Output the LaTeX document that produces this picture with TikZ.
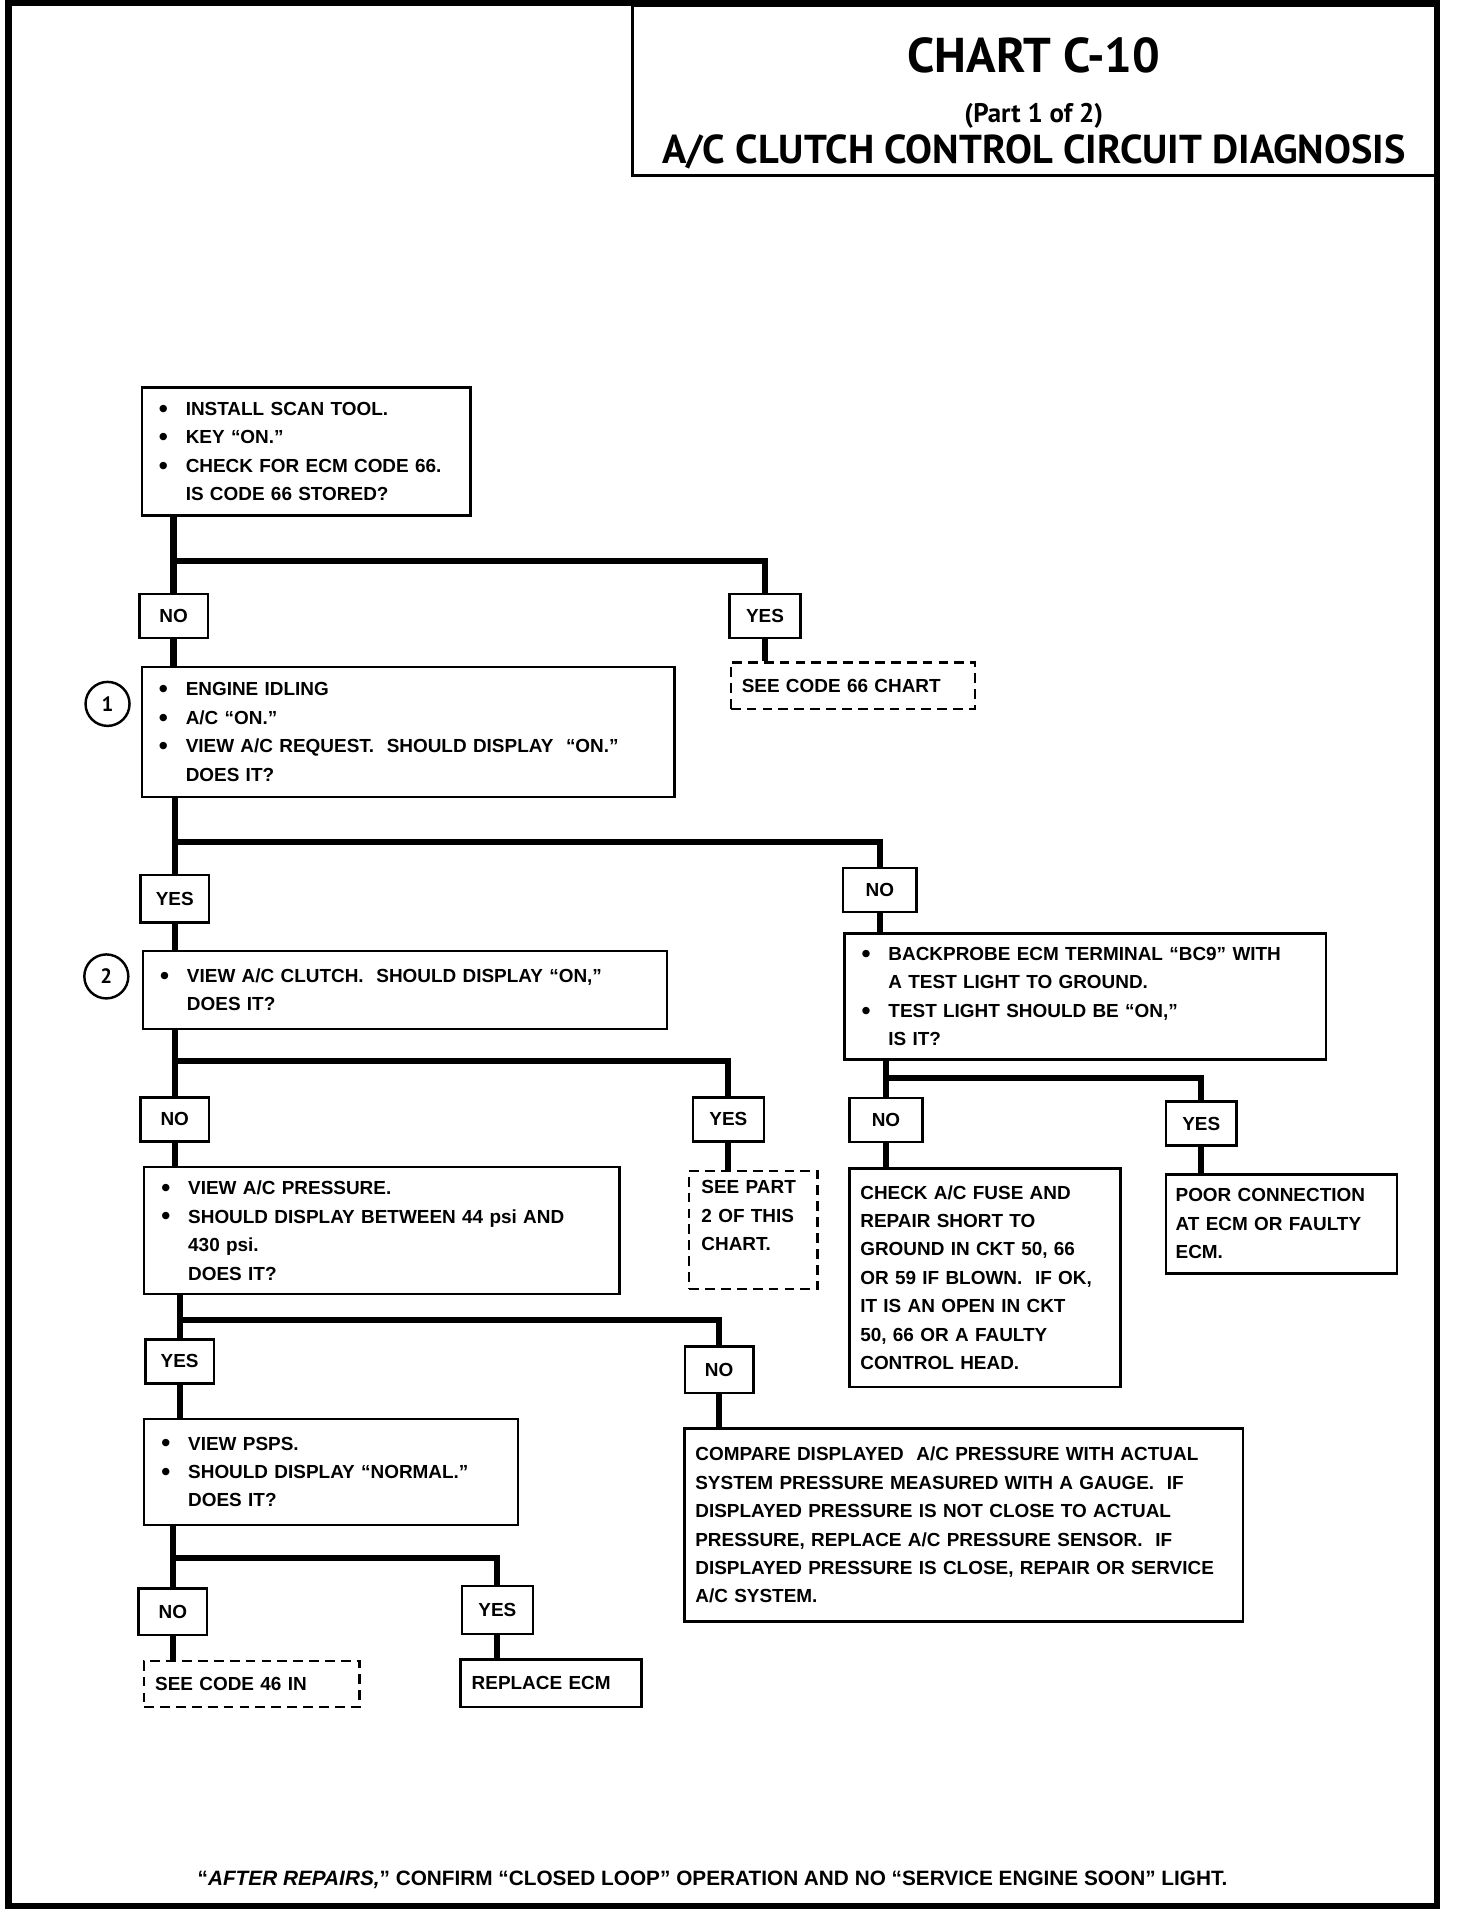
\documentclass[tikz,border=0pt]{standalone}
\usepackage{fontspec}
\setmainfont{PT Sans}
\newfontfamily\boxfont{Liberation Sans}

\newcommand{\bul}{\makebox[22pt][l]{\raisebox{-1.5pt}{\fontsize{21}{0}\selectfont\textbullet}}}
\newcommand{\ind}{\hspace*{22pt}}

\begin{document}
\begin{tikzpicture}[x=1pt, y=-1pt,
    step_box/.style={draw, line width=2pt, anchor=north west, align=left, inner xsep=14pt, inner ysep=0pt, font=\boxfont\fontsize{15.5}{23.3}\selectfont\bfseries},
    dash_box/.style={step_box, dash pattern=on 8pt off 5pt, inner xsep=9pt},
    label_box/.style={draw, line width=2pt, minimum width=56pt, minimum height=36pt, inner sep=0pt, font=\boxfont\fontsize{15.5}{18}\selectfont\bfseries},
    tag_node/.style={circle, draw, line width=2pt, minimum size=36pt, inner sep=0pt, font=\fontsize{17}{18}\selectfont\bfseries},
    wire/.style={line width=5pt}]
    \useasboundingbox (0,0) rectangle (1191.5,1564.6);
    \draw[line width=5pt] (7,2.5) rectangle (1176,1560);

    % title
    \node[draw, line width=2.5pt, anchor=north west, minimum width=660pt, minimum height=139pt] (title_box) at (516,3) {};
    \node[anchor=base, font=\fontsize{40}{40}\selectfont\bfseries] (chart_no) at (846,59) {CHART C-10};
    \node[anchor=base, font=\fontsize{22}{22}\selectfont\bfseries] (part_no) at (846,100) {(Part 1 of 2)};
    \node[anchor=base, font=\fontsize{33}{33}\selectfont\bfseries] (chart_name) at (846,134) {A/C CLUTCH CONTROL CIRCUIT DIAGNOSIS};

    % steps
    \node[step_box, minimum width=269pt, minimum height=105pt, text width=241pt] (check_code) at (115,316)
        {\bul INSTALL SCAN TOOL.\\ \bul KEY “ON.”\\ \bul CHECK FOR ECM CODE 66.\\ \ind IS CODE 66 STORED?};
    \node[dash_box, minimum width=200pt, minimum height=38pt, text width=182pt] (code66) at (597,541)
        {SEE CODE 66 CHART};
    \node[step_box, minimum width=436pt, minimum height=106pt, text width=408pt] (ac_request) at (115,545)
        {\bul ENGINE IDLING\\ \bul A/C “ON.”\\ \bul VIEW A/C REQUEST.\ \ SHOULD DISPLAY\ \ “ON.”\\ \ind DOES IT?};
    \node[step_box, minimum width=429pt, minimum height=64pt, text width=401pt] (ac_clutch) at (116,777)
        {\bul VIEW A/C CLUTCH.\ \ SHOULD DISPLAY “ON,”\\ \ind DOES IT?};
    \node[step_box, minimum width=394pt, minimum height=103pt, text width=366pt] (backprobe) at (690,763)
        {\bul BACKPROBE ECM TERMINAL “BC9” WITH\\ \ind A TEST LIGHT TO GROUND.\\ \bul TEST LIGHT SHOULD BE “ON,”\\ \ind IS IT?};
    \node[step_box, inner xsep=9pt, minimum width=222pt, minimum height=179pt, text width=204pt] (fuse) at (694,955)
        {CHECK A/C FUSE AND\\ REPAIR SHORT TO\\ GROUND IN CKT 50, 66\\ OR 59 IF BLOWN.\ \ IF OK,\\ IT IS AN OPEN IN CKT\\ 50, 66 OR A FAULTY\\ CONTROL HEAD.};
    \node[step_box, inner xsep=8pt, minimum width=189pt, minimum height=81pt, text width=173pt] (poor_conn) at (953,960)
        {POOR CONNECTION\\ AT ECM OR FAULTY\\ ECM.};
    \node[dash_box, inner xsep=10pt, minimum width=105pt, minimum height=97pt, text width=85pt] (part2) at (563,957)
        {SEE PART\\ 2 OF THIS\\ CHART.\\ \mbox{}};
    \node[step_box, minimum width=389pt, minimum height=104pt, text width=361pt] (pressure) at (117,954)
        {\bul VIEW A/C PRESSURE.\\ \bul SHOULD DISPLAY BETWEEN 44 psi AND\\ \ind 430 psi.\\ \ind DOES IT?};
    \node[step_box, minimum width=306pt, minimum height=87pt, text width=278pt] (psps) at (117,1160)
        {\bul VIEW PSPS.\\ \bul SHOULD DISPLAY “NORMAL.”\\ \ind DOES IT?};
    \node[step_box, inner xsep=9pt, minimum width=457pt, minimum height=158pt, text width=439pt] (compare) at (559,1168)
        {COMPARE DISPLAYED\ \ A/C PRESSURE WITH ACTUAL\\ SYSTEM PRESSURE MEASURED WITH A GAUGE.\ \ IF\\ DISPLAYED PRESSURE IS NOT CLOSE TO ACTUAL\\ PRESSURE, REPLACE A/C PRESSURE SENSOR.\ \ IF\\ DISPLAYED PRESSURE IS CLOSE, REPAIR OR SERVICE\\ A/C SYSTEM.};
    \node[dash_box, minimum width=176pt, minimum height=38pt, text width=158pt] (code46) at (117,1358)
        {SEE CODE 46 IN};
    \node[step_box, inner xsep=9pt, minimum width=148pt, minimum height=39pt, text width=130pt] (replace) at (376,1357)
        {REPLACE ECM};

    % circled numbers
    \node[tag_node] (tag1) at (88,576) {1};
    \node[tag_node] (tag2) at (87,799) {2};

    % answers
    \node[label_box] (no1) at (142,504) {NO};
    \node[label_box, minimum width=58pt] (yes1) at (626,504) {YES};
    \node[label_box, minimum height=39pt] (yes2) at (143,735.5) {YES};
    \node[label_box, minimum width=60pt] (no2) at (720,728.5) {NO};
    \node[label_box] (no3) at (143,916) {NO};
    \node[label_box, minimum width=58pt] (yes3) at (596,916) {YES};
    \node[label_box, minimum width=60pt] (no4) at (725,916.5) {NO};
    \node[label_box, minimum width=58pt] (yes4) at (983,919.5) {YES};
    \node[label_box] (yes5) at (147,1114) {YES};
    \node[label_box, minimum height=38pt] (no5) at (588.5,1121) {NO};
    \node[label_box, minimum height=38pt] (no6) at (141.5,1319) {NO};
    \node[label_box, minimum width=58pt, minimum height=39pt] (yes6) at (407,1317.5) {YES};

    % junctions
    \coordinate (j1) at (142,459);
    \coordinate (j2) at (143,689);
    \coordinate (j3) at (143,868);
    \coordinate (j4) at (725,882);
    \coordinate (j5) at (147,1080);
    \coordinate (j6) at (141.5,1275);

    \draw[wire] (no1.north |- check_code.south) -- (no1.north);
    \draw[wire] (j1) -| (yes1.north);
    \draw[wire] (yes1.south) -- (yes1.south |- code66.north);
    \draw[wire] (no1.south) -- (no1.south |- ac_request.north);

    \draw[wire] (yes2.north |- ac_request.south) -- (yes2.north);
    \draw[wire] (j2) -| (no2.north);
    \draw[wire] (yes2.south) -- (yes2.south |- ac_clutch.north);
    \draw[wire] (no2.south) -- (no2.south |- backprobe.north);

    \draw[wire] (no4.north |- backprobe.south) -- (no4.north);
    \draw[wire] (j4) -| (yes4.north);
    \draw[wire] (no4.south) -- (no4.south |- fuse.north);
    \draw[wire] (yes4.south) -- (yes4.south |- poor_conn.north);

    \draw[wire] (no3.north |- ac_clutch.south) -- (no3.north);
    \draw[wire] (j3) -| (yes3.north);
    \draw[wire] (yes3.south) -- (yes3.south |- part2.north);
    \draw[wire] (no3.south) -- (no3.south |- pressure.north);

    \draw[wire] (yes5.north |- pressure.south) -- (yes5.north);
    \draw[wire] (j5) -| (no5.north);
    \draw[wire] (yes5.south) -- (yes5.south |- psps.north);
    \draw[wire] (no5.south) -- (no5.south |- compare.north);

    \draw[wire] (no6.north |- psps.south) -- (no6.north);
    \draw[wire] (j6) -| (yes6.north);
    \draw[wire] (no6.south) -- (no6.south |- code46.north);
    \draw[wire] (yes6.south) -- (yes6.south |- replace.north);

    % footer
    \node[anchor=base, font=\boxfont\fontsize{17}{18}\selectfont\bfseries] (footer) at (583,1543)
        {“\textit{AFTER REPAIRS,}” CONFIRM “CLOSED LOOP” OPERATION AND NO “SERVICE ENGINE SOON” LIGHT.};
\end{tikzpicture}
\end{document}
